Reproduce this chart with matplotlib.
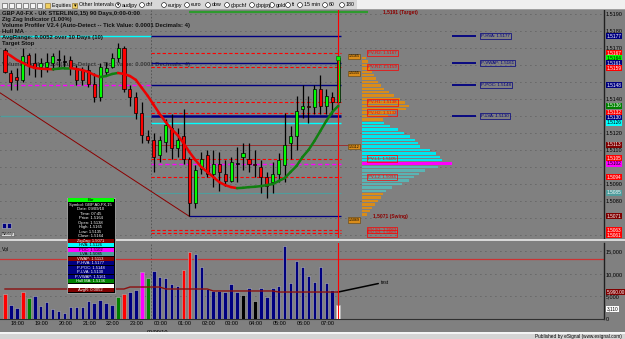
import matplotlib
matplotlib.use("Agg")
import matplotlib.pyplot as plt
import matplotlib.patches as mpatches
from matplotlib.collections import LineCollection
from matplotlib.transforms import blended_transform_factory
import numpy as np
import pandas as pd

plt.rcParams["font.family"] = ["Liberation Sans", "DejaVu Sans"]

# ── Palette ──────────────────────────────────────────────────────────────────
BG = "#808080"
GRID = "#4c4c4c"
UP = "#00ff00"
DOWN = "#ff0000"
NAVY = "#000080"
CYAN = "#00ffff"
MAGENTA = "#ff00ff"
TEAL = "#4f9d9d"
DARKRED = "#800000"
ORANGE = "#d98c1a"
HULL_UP = "#108010"
HULL_DN = "#ee0000"

# ── 15 min bars, GBP A0-FX ───────────────────────────────────────────────────
bar_times = pd.date_range("2010-09-08 17:45", periods=57, freq="15min")
opens = [1.5169, 1.5155, 1.5153, 1.5151, 1.5166, 1.5161, 1.5159, 1.5159, 1.5161, 1.5163,
         1.5162, 1.5163, 1.5158, 1.5157, 1.5157, 1.5149, 1.5141, 1.5156, 1.5159, 1.5164,
         1.5170, 1.5146, 1.5141, 1.5132, 1.5118, 1.5116, 1.5107, 1.5115, 1.5123, 1.5111,
         1.5118, 1.5105, 1.5079, 1.5099, 1.5107, 1.5096, 1.5102, 1.5096, 1.5092, 1.5102,
         1.5106, 1.5105, 1.5102, 1.5100, 1.5094, 1.5091, 1.5096, 1.5101, 1.5114, 1.5118,
         1.5134, 1.5136, 1.5135, 1.5146, 1.5136, 1.5141, 1.5138]
highs = [1.5170, 1.5157, 1.5158, 1.5170, 1.5167, 1.5167, 1.5164, 1.5167, 1.5167, 1.5169,
         1.5166, 1.5165, 1.5160, 1.5159, 1.5160, 1.5155, 1.5161, 1.5162, 1.5167, 1.5173,
         1.5171, 1.5148, 1.5144, 1.5138, 1.5122, 1.5120, 1.5118, 1.5128, 1.5131, 1.5123,
         1.5134, 1.5106, 1.5101, 1.5109, 1.5110, 1.5110, 1.5109, 1.5104, 1.5106, 1.5112,
         1.5114, 1.5114, 1.5110, 1.5104, 1.5097, 1.5103, 1.5108, 1.5132, 1.5124, 1.5142,
         1.5148, 1.5142, 1.5148, 1.5154, 1.5146, 1.5144, 1.5165]
lows = [1.5155, 1.5145, 1.5145, 1.5150, 1.5154, 1.5153, 1.5153, 1.5156, 1.5157, 1.5159,
        1.5158, 1.5154, 1.5148, 1.5148, 1.5147, 1.5138, 1.5139, 1.5154, 1.5158, 1.5162,
        1.5144, 1.5136, 1.5128, 1.5114, 1.5114, 1.5097, 1.5103, 1.5109, 1.5105, 1.5106,
        1.5102, 1.5071, 1.5076, 1.5096, 1.5094, 1.5088, 1.5086, 1.5089, 1.5091, 1.5091,
        1.5098, 1.5097, 1.5094, 1.5085, 1.5082, 1.5085, 1.5091, 1.5091, 1.5105, 1.5110,
        1.5129, 1.5126, 1.5131, 1.5131, 1.5131, 1.5131, 1.5135]
closes = [1.5156, 1.5150, 1.5151, 1.5165, 1.5160, 1.5158, 1.5161, 1.5162, 1.5165, 1.5163,
          1.5162, 1.5158, 1.5151, 1.5151, 1.5149, 1.5141, 1.5159, 1.5158, 1.5164, 1.5170,
          1.5146, 1.5141, 1.5132, 1.5119, 1.5116, 1.5106, 1.5116, 1.5125, 1.5111, 1.5116,
          1.5105, 1.5079, 1.5098, 1.5105, 1.5096, 1.5102, 1.5097, 1.5092, 1.5103, 1.5102,
          1.5108, 1.5102, 1.5101, 1.5094, 1.5089, 1.5096, 1.5104, 1.5113, 1.5118, 1.5133,
          1.5136, 1.5135, 1.5146, 1.5136, 1.5142, 1.5138, 1.5164]
hull = [1.51676, 1.51653, 1.51629, 1.51612, 1.51594, 1.51582, 1.51578, 1.51576, 1.51575, 1.51578,
        1.51582, 1.51582, 1.51576, 1.51570, 1.51559, 1.51541, 1.51529, 1.51535, 1.51547, 1.51553,
        1.51547, 1.51535, 1.51512, 1.51465, 1.51418, 1.51365, 1.51312, 1.51265, 1.51223, 1.51188,
        1.51141, 1.51088, 1.51041, 1.51000, 1.50971, 1.50941, 1.50912, 1.50894, 1.50882, 1.50876,
        1.50878, 1.50882, 1.50884, 1.50888, 1.50894, 1.50900, 1.50918, 1.50935, 1.50971, 1.51006,
        1.51059, 1.51100, 1.51153, 1.51212, 1.51271, 1.51323, 1.51359]

volumes = [5550, 3110, 2440, 5990, 4660, 5110, 2890, 3770, 2220, 1780,
           1330, 2660, 2660, 2740, 4000, 3550, 4220, 3550, 3110, 4880,
           5550, 5990, 6440, 10430, 9100, 10660, 9320, 9100, 7770, 7330,
           10880, 14870, 14430, 11540, 6660, 6220, 6220, 5990, 7770, 5990,
           5330, 6880, 4000, 6880, 4880, 6880, 7330, 16210, 7990, 12880,
           11540, 9550, 8210, 11540, 7990, 6440, 3110]
vol_colors = ["red", "navy", "navy", "red", "green", "navy", "navy", "navy", "navy", "navy",
              "navy", "navy", "navy", "navy", "navy", "navy", "navy", "navy", "navy", "green",
              "red", "navy", "navy", "magenta", "green", "navy", "navy", "navy", "navy", "navy",
              "red", "red", "navy", "navy", "navy", "navy", "navy", "navy", "navy", "navy",
              "black", "navy", "black", "navy", "navy", "navy", "navy", "navy", "navy", "navy",
              "navy", "navy", "navy", "navy", "navy", "navy", "white"]
vol_ma = [6660, 6660, 6660, 6660, 6660, 6660, 6660, 6660, 6660, 6660,
          6660, 6660, 6660, 6660, 6660, 6660, 6660, 6660, 6660, 6660,
          6660, 7100, 7100, 7100, 7100, 7100, 7100, 6660, 6660, 6660,
          6660, 6660, 6660, 6660, 6660, 6220, 6220, 6220, 6220, 6220,
          6220, 6220, 6220, 6220, 6220, 6220, 5990, 5990, 5990, 5990,
          5990, 5990, 5990, 5990, 5990, 5990, 5990]
VOL_ALERT = 13400

# ── Volume profile (current session) ─────────────────────────────────────────
profile_prices = [1.5164, 1.5162, 1.5160, 1.5158, 1.5156, 1.5154, 1.5152, 1.5150, 1.5148, 1.5146,
                  1.5144, 1.5142, 1.5140, 1.5138, 1.5136, 1.5134, 1.5132, 1.5130, 1.5128, 1.5126,
                  1.5124, 1.5122, 1.5120, 1.5118, 1.5116, 1.5114, 1.5112, 1.5110, 1.5108, 1.5106,
                  1.5104, 1.5102, 1.5100, 1.5098, 1.5096, 1.5094, 1.5092, 1.5090, 1.5088, 1.5086,
                  1.5084, 1.5082, 1.5080, 1.5078, 1.5076, 1.5074, 1.5072]
profile_vol = [400, 600, 700, 800, 1000, 1200, 1400, 1600, 1900, 2200,
               2700, 3200, 3800, 4300, 4700, 4400, 3300, 2600, 2100, 2200,
               2800, 3600, 4200, 4800, 5300, 5600, 5800, 6800, 7400, 7800,
               8000, 9000, 7600, 6300, 5700, 5200, 4700, 4000, 3000, 2400,
               2100, 1900, 1600, 1300, 1000, 800, 500]

# ── Levels ───────────────────────────────────────────────────────────────────
prev_hva, prev_vwap, prev_poc, prev_lva = 1.5177, 1.5161, 1.5148, 1.5130
day_hva, day_poc, day_lva, day_vwap = 1.5126, 1.5102, 1.5085, 1.5113
pivot_levels = [1.5167, 1.5159, 1.5138, 1.5132, 1.5105, 1.5094, 1.5063, 1.5061]
pivot_names = ["PV-R2", "PV-R1", "PV-H1", "PV-H2", "PV-L1", "PV-L2", "PV-S1", "PV-S2"]
swing_low, swing_bar = 1.5071, 31
target = 1.5191
zigzag_bars = [-1, 31]
zigzag_prices = [1.5144, 1.5071]
AVG_RANGE = 0.0052

# ── Layout (pixels) ──────────────────────────────────────────────────────────
W, H = 625, 339


def px_rect(x0, y0, x1, y1):
    return [x0 / W, 1 - y1 / H, (x1 - x0) / W, (y1 - y0) / H]


XLIM = (-0.84, 100.67)
DAY_SPLIT = 24.5
n = len(opens)
last = n - 1
idx = np.arange(n)

fig = plt.figure(figsize=(W / 100, H / 100), dpi=100, facecolor=BG)
ax = fig.add_axes(px_rect(0, 10, 604, 238), facecolor=BG)
axv = fig.add_axes(px_rect(0, 243, 604, 319), facecolor=BG)
ui = fig.add_axes([0, 0, 1, 1], zorder=10)
ui.set_xlim(0, W)
ui.set_ylim(H, 0)
ui.axis("off")

for a in (ax, axv):
    a.set_xlim(*XLIM)
    for s in ("top", "left"):
        a.spines[s].set_visible(False)
    a.spines["right"].set_color("#202020")
    a.spines["right"].set_linewidth(1.0)
    a.yaxis.tick_right()
    a.tick_params(axis="y", length=0, pad=1.5, labelsize=4, colors="black")
    a.axvline(DAY_SPLIT, color="#505050", lw=0.6, ls=(0, (2, 2)), zorder=1)
    a.axvline(last, color="red", lw=0.8, zorder=6)

# ── Price panel ──
ax.set_ylim(1.50583, 1.51923)
ax.spines["bottom"].set_visible(False)
ax.set_xticks([])

ax.text(-0.5, 1.5160, "Volume Profiler V2.4 (Auto-Detect -- Tick Value: 0.0001 Decimals: 4)",
        fontsize=4.2, color="#3a3a3a", fontweight="bold", va="center", zorder=2)

# previous session levels
for p, col, ls in ((prev_hva, CYAN, "-"), (prev_poc, MAGENTA, (0, (3, 2))), (prev_lva, TEAL, "-")):
    ax.hlines(p, XLIM[0], DAY_SPLIT, colors=col, lw=1.0, linestyles=ls, zorder=2)
# carried into current session
for p in (prev_hva, prev_vwap, prev_poc):
    ax.hlines(p, DAY_SPLIT, last + 0.5, colors=NAVY, lw=1.0, zorder=2)
ax.hlines(prev_lva, DAY_SPLIT, last + 0.5, colors=NAVY, lw=1.8, zorder=2)
for p in pivot_levels:
    ax.hlines(p, DAY_SPLIT, last + 0.5, colors="red", lw=0.8, linestyles=(0, (3, 2)), zorder=2)
ax.hlines(day_hva, DAY_SPLIT, last + 0.5, colors=CYAN, lw=1.0, zorder=2)
ax.hlines(day_poc, DAY_SPLIT, last + 0.5, colors=MAGENTA, lw=1.0, linestyles=(0, (3, 2)), zorder=2)
ax.hlines(day_lva, DAY_SPLIT, last + 0.5, colors=TEAL, lw=0.8, zorder=2)
ax.hlines(day_vwap, DAY_SPLIT, last + 2, colors="#9a3030", lw=0.7, zorder=2)
ax.hlines(swing_low, swing_bar, last + 0.5, colors=NAVY, lw=0.9, zorder=2)
ax.hlines(target, swing_bar, 61, colors="#2e9a2e", lw=1.6, zorder=2)
ax.plot(zigzag_bars, zigzag_prices, color="#8b0000", lw=0.7, zorder=3)

# candles
o, hi, lo, c = map(np.array, (opens, highs, lows, closes))
body_col = np.where(c > o, UP, np.where(c < o, DOWN, "black"))
ax.vlines(idx, lo, hi, color="black", lw=0.9, zorder=4)
ax.bar(idx, np.maximum(np.abs(c - o), 0.00003), bottom=np.minimum(o, c), width=0.52,
       color=body_col, edgecolor="black", lw=0.5, zorder=5)

# hull MA
hp = np.array(hull)
pts = np.column_stack([idx, hp])
segs = np.stack([pts[:-1], pts[1:]], axis=1)
seg_cols = [HULL_UP if b >= a else HULL_DN for a, b in zip(hp[:-1], hp[1:])]
ax.add_collection(LineCollection(segs, colors=seg_cols, lw=1.8, zorder=6, capstyle="round"))

# volume profile
PROFILE_LEFT = 60.0
PROFILE_SCALE = 595.0
pcols = []
for p in profile_prices:
    if abs(p - day_poc) < 1e-6:
        pcols.append(MAGENTA)
    elif day_hva >= p > day_poc:
        pcols.append("#00e8f0")
    elif day_poc > p >= day_lva:
        pcols.append("#5ab4b4")
    else:
        pcols.append(ORANGE)
ax.barh(profile_prices, np.array(profile_vol) / PROFILE_SCALE, left=PROFILE_LEFT,
        height=0.00014, color=pcols, lw=0, zorder=3)

# labels by the profile
for p, name in zip(pivot_levels, pivot_names):
    ax.text(61, p, f"{name}: {p:.4f}", fontsize=3.2, color="red", va="center", ha="left", zorder=7,
            bbox=dict(boxstyle="square,pad=0.25", fc="none", ec="red", lw=0.5))
for p, name in ((prev_hva, "P-HVA"), (prev_vwap, "P-VWAP"), (prev_poc, "P-POC"), (prev_lva, "P-LVA")):
    ax.hlines(p, 75.1, 79.2, colors=NAVY, lw=1.3, zorder=3)
    ax.text(80, p, f"{name}: {p:.4f}", fontsize=3.2, color=NAVY, va="center", ha="left", zorder=7,
            bbox=dict(boxstyle="square,pad=0.25", fc="none", ec=NAVY, lw=0.5))
for p in (closes[-1] + 0.0001, 1.5155, 1.5112, swing_low - 0.0002):
    ax.text(57.7, p, f"{p:.4f}", fontsize=2.6, color="black", va="center", ha="left", zorder=7,
            bbox=dict(boxstyle="square,pad=0.2", fc=ORANGE, ec="#604010", lw=0.4))
ax.text(63.5, target, f"{target:.4f} (Target)", fontsize=3.6, color="#8b0000",
        fontweight="bold", va="center", zorder=7)
ax.text(61.8, swing_low, f"{swing_low:.4f} (Swing)", fontsize=3.6, color="#8b0000",
        fontweight="bold", va="center", zorder=7)
ax.plot([last], [closes[-1]], marker="s", ms=2.5, color=UP, mec="#006000", mew=0.4, zorder=8)

# tags on the price scale, stacked so they do not cover each other
tr = blended_transform_factory(ax.transAxes, ax.transData)
tags = [(prev_hva, NAVY, "white"), (pivot_levels[0], "red", "white"), (closes[-1], UP, "black"),
        (prev_vwap, NAVY, "white"), (pivot_levels[1], "red", "white"), (prev_poc, NAVY, "white"),
        (hull[-1], "#008000", "white"), (pivot_levels[3], "red", "white"), (prev_lva, NAVY, "white"),
        (day_hva, CYAN, "black"), (day_vwap, DARKRED, "white"), (pivot_levels[4], "red", "white"),
        (day_poc, MAGENTA, "black"), (pivot_levels[5], "red", "white"), (day_lva, TEAL, "white"),
        (swing_low, DARKRED, "white"), (pivot_levels[6], "red", "white"), (pivot_levels[7], "red", "white")]
tags.sort(key=lambda t: -t[0])
TAG_GAP = 0.00030
placed = []
for p, fc, tc in tags:
    pos = p if not placed else min(p, placed[-1] - TAG_GAP)
    placed.append(pos)
    ax.text(1.004, pos, f"{p:.4f}", transform=tr, fontsize=3.4, color=tc, va="center", ha="left",
            clip_on=False, zorder=9, bbox=dict(boxstyle="square,pad=0.12", fc=fc, ec="none"))

yt = np.round(np.arange(1.5060, 1.5195, 0.001), 4)
ax.set_yticks(yt)
ax.set_yticklabels(["" if min(abs(v - q) for q in placed) < 0.00028 else f"{v:.4f}" for v in yt])
ax.yaxis.grid(True, color=GRID, lw=0.6, ls=(0, (1, 5)))
ax.set_axisbelow(True)

# ── Volume panel ──
axv.set_ylim(0, 16870)
axv.bar(idx, volumes, width=0.6, color=vol_colors, edgecolor="#b4b4b4", lw=0.4, zorder=3)
axv.plot(idx, vol_ma, color="#8b1010", lw=1.0, zorder=4)
axv.axhline(VOL_ALERT, color="#cc3333", lw=0.9, zorder=2)
axv.set_yticks([0, 5000, 10000, 15000])
axv.set_yticklabels(["0", "5,000", "10,000", "15,000"])
axv.yaxis.grid(True, color=GRID, lw=0.6, ls=(0, (1, 5)))
axv.set_axisbelow(True)
axv.spines["bottom"].set_color("#303030")
hour_idx = [i for i, t in enumerate(bar_times) if t.minute == 0]
axv.set_xticks(hour_idx)
axv.set_xticklabels([bar_times[i].strftime("%H:%M") for i in hour_idx], fontsize=4)
axv.tick_params(axis="x", length=0, pad=1.5, colors="black")
for lbl in axv.get_xticklabels():
    lbl.set_ha("left")
mid = [i for i in hour_idx if bar_times[i].hour == 0][0]
axv.text(mid + 0.6, -0.14, bar_times[mid].strftime("%m/%d/%y"),
         transform=blended_transform_factory(axv.transData, axv.transAxes),
         fontsize=4, ha="center", va="top", clip_on=False)
trv = blended_transform_factory(axv.transAxes, axv.transData)
axv.text(1.004, vol_ma[-1], f"{vol_ma[-1]:,.2f}", transform=trv, fontsize=3.4, color="white",
         va="center", clip_on=False, zorder=9, bbox=dict(boxstyle="square,pad=0.12", fc=DARKRED, ec="none"))
axv.text(1.004, volumes[-1] - 900, f"{volumes[-1]:,}", transform=trv, fontsize=3.4, color="black",
         va="center", clip_on=False, zorder=9, bbox=dict(boxstyle="square,pad=0.12", fc="white", ec="none"))
axv.annotate("test", xy=(last, 5990), xytext=(63.2, 8000), fontsize=3.6, va="center",
             arrowprops=dict(arrowstyle="-", color="black", lw=1.1, shrinkA=0, shrinkB=0,
                             relpos=(0, 0.5)), annotation_clip=False)
axv.text(0.004, 0.95, "Vol", transform=axv.transAxes, fontsize=3.6, va="top")

# ── Window chrome ────────────────────────────────────────────────────────────
ui.add_patch(mpatches.Rectangle((0, 0), 357, 10, fc="#d8d8d8", ec="none"))
ui.add_patch(mpatches.Rectangle((357, 0), W - 357, 10, fc="#f0f0f0", ec="none"))
ui.add_patch(mpatches.Rectangle((0, 9.4), W, 0.8, fc="#a0a0a0", ec="none"))
for k in range(6):
    ui.add_patch(mpatches.Rectangle((2 + 7 * k, 2.5), 5, 5, fc="#f4f4f4", ec="#404040", lw=0.4))
ui.add_patch(mpatches.Rectangle((45, 2.5), 5, 5, fc="#f0d060", ec="#806020", lw=0.4))
ui.text(52, 5, "Equities  \u25be", fontsize=3.8, va="center")
ui.add_patch(mpatches.Rectangle((72, 2.5), 5, 5, fc="#f0d060", ec="#806020", lw=0.4))
ui.text(79, 5, "Other Intervals  \u25be", fontsize=3.8, va="center")
for x, t in ((118, "audjpy"), (142, "chf"), (164, "eurjpy"), (187, "euro"), (208, "dow"),
             (227, "gbpchf"), (252, "gbpjpy"), (272, "gold"), (288, "ft"), (300, "15 min"),
             (325, "60"), (342, "180")):
    ui.add_patch(mpatches.Circle((x, 5), 2.4, fc="white", ec="black", lw=0.4))
    ui.text(x + 4, 5, t, fontsize=3.8, va="center")

ui.add_patch(mpatches.Rectangle((0, 239), W, 2.2, fc="#d8d8d8", ec="none"))
ui.add_patch(mpatches.Rectangle((0, 332), W, 2, fc="#f4f4f4", ec="none"))
ui.add_patch(mpatches.Rectangle((0, 334), W, 5, fc="#d4d4d4", ec="none"))
ui.text(622, 336.5, "Published by eSignal (www.esignal.com)", fontsize=3.4, ha="right", va="center")

titles = ["GBP A0-FX - UK STERLING,15) 90 Days,0:00-0:00", "Zig Zag Indicator (1.00%)",
          "Volume Profiler V2.4 (Auto-Detect -- Tick Value: 0.0001 Decimals: 4)", "Hull MA",
          f"AvgRange: {AVG_RANGE:.4f} over 10 Days (10)", "Target Stop"]
for k, t in enumerate(titles):
    ui.text(1.5, 13.5 + 5.9 * k, t, fontsize=4.2, fontweight="bold", color="#101010", va="center")

# small chart buttons
ui.add_patch(mpatches.Rectangle((2, 223), 4, 5, fc=NAVY, ec="#c0c0c0", lw=0.4))
ui.add_patch(mpatches.Rectangle((7, 223), 4, 5, fc=NAVY, ec="#c0c0c0", lw=0.4))
ui.add_patch(mpatches.Rectangle((1, 231.5), 13, 4.5, fc="#d8d8d8", ec="#505050", lw=0.4))
ui.text(7.5, 233.8, "Weekly", fontsize=2.6, ha="center", va="center")

# data window
rows = [("Bar", UP, "black")]
rows += [(t, "black", "white") for t in (
    "Symbol: GBP A0-FX,15", f"Date: {bar_times[-1]:%m/%d/%y}", f"Time: {bar_times[-1]:%H:%M}",
    f"Price: {closes[-1]:.4f}", f"Open: {opens[-1]:.4f}", f"High: {highs[-1]:.4f}",
    f"Low: {lows[-1]:.4f}", f"Close: {closes[-1]:.4f}")]
rows += [(f"ZigZag: {swing_low:.4f}", DARKRED, "white"), (f"HVA: {day_hva:.4f}", CYAN, "black"),
         (f"POC: {day_poc:.4f}", MAGENTA, "black"), (f"LVA: {day_lva:.4f}", TEAL, "black"),
         (f"VWAP: {day_vwap:.4f}", DARKRED, "white"), (f"P-HVA: {prev_hva:.4f}", NAVY, "white"),
         (f"P-POC: {prev_poc:.4f}", NAVY, "white"), (f"P-LVA: {prev_lva:.4f}", NAVY, "white"),
         (f"P-VWAP: {prev_vwap:.4f}", NAVY, "white"), (f"Hull MA: {hull[-1]:.4f}", "#008000", "white"),
         ("", "white", "black"), (f"AvgR: {AVG_RANGE:.4f}", DARKRED, "white")]
y0, rh = 198, 4.5
ui.add_patch(mpatches.Rectangle((66.5, y0 - 0.5), 48, rh * len(rows) + 1, fc="black", ec="#c0c0c0", lw=0.5))
for k, (t, fc, tc) in enumerate(rows):
    ui.add_patch(mpatches.Rectangle((67.5, y0 + rh * k + 0.3), 46, rh - 0.6, fc=fc, ec="none"))
    ui.text(90.5, y0 + rh * k + rh / 2, t, fontsize=3.0, color=tc, ha="center", va="center")

fig.savefig("out.png", dpi=100, facecolor=BG)
